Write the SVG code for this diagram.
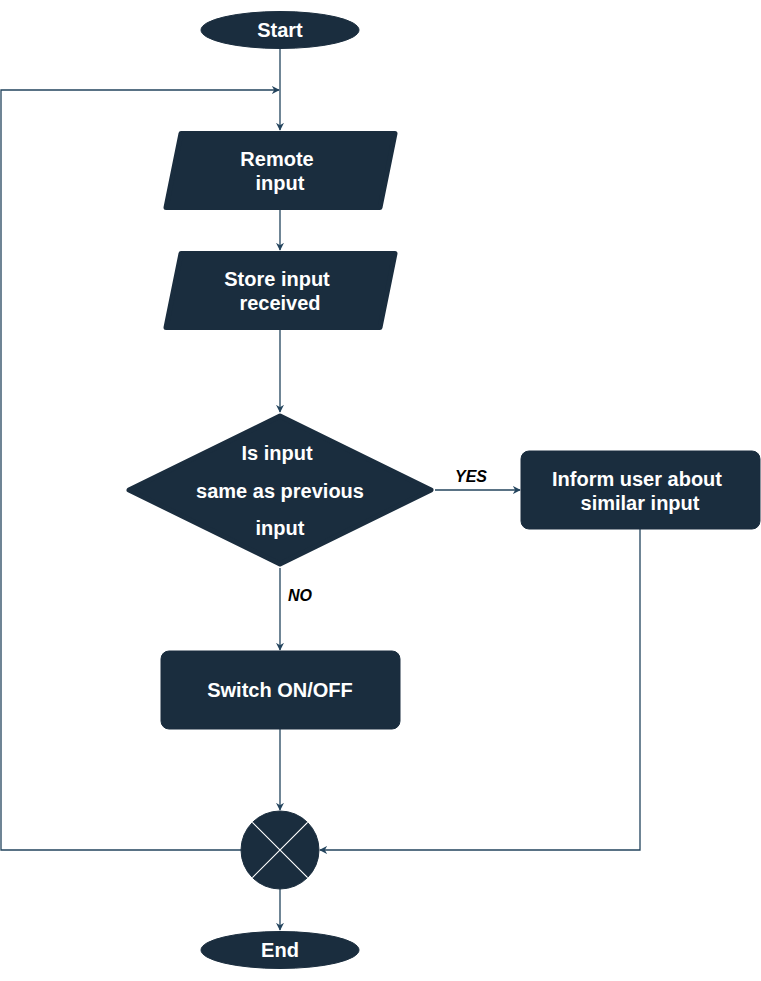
<svg xmlns="http://www.w3.org/2000/svg" width="761" height="981" viewBox="0 0 761 981">
<defs>
<marker id="arr" viewBox="0 0 10 10" refX="9" refY="5" markerWidth="8" markerHeight="8" markerUnits="userSpaceOnUse" orient="auto">
<path d="M0,0 L10,5 L0,10 L3,5 z" fill="#23445D"/>
</marker>
<style>
.n{fill:#1A2D3E;stroke:#1A2D3E;stroke-linejoin:round}
.t{font-family:"Liberation Sans",Arial,sans-serif;font-weight:bold;font-size:20px;fill:#FFFFFF;text-anchor:middle}
.l{font-family:"Liberation Sans",Arial,sans-serif;font-weight:bold;font-style:italic;font-size:16px;fill:#000000;text-anchor:middle}
.c{fill:none;stroke:#23445D;stroke-width:1.3}
</style>
</defs>
<rect width="761" height="981" fill="#FFFFFF"/>
<g id="connectors">
<path class="c" d="M280,49 L280,130" marker-end="url(#arr)"/>
<path class="c" d="M241,850 L1,850 L1,90 L279,90" marker-end="url(#arr)"/>
<path class="c" d="M280,210 L280,250" marker-end="url(#arr)"/>
<path class="c" d="M280,330 L280,412" marker-end="url(#arr)"/>
<path class="c" d="M435,490 L520,490" marker-end="url(#arr)"/>
<path class="c" d="M280,568 L280,650" marker-end="url(#arr)"/>
<path class="c" d="M280,729 L280,810" marker-end="url(#arr)"/>
<path class="c" d="M640,529 L640,850 L320,850" marker-end="url(#arr)"/>
<path class="c" d="M280,889 L280,930" marker-end="url(#arr)"/>
<text class="l" x="471" y="482">YES</text>
<text class="l" x="300" y="601">NO</text>
</g>
<g id="start">
<ellipse class="n" cx="280" cy="30" rx="79" ry="18.5"/>
<text class="t" x="280" y="37">Start</text>
</g>
<g id="remote-input">
<polygon class="n" stroke-width="5" points="181,133.5 395,133.5 380,207.5 166,207.5"/>
<text class="t" x="277" y="166">Remote</text>
<text class="t" x="280" y="190">input</text>
</g>
<g id="store-input">
<polygon class="n" stroke-width="5" points="181,253.5 395,253.5 380,327.5 166,327.5"/>
<text class="t" x="277" y="286">Store input</text>
<text class="t" x="280" y="310">received</text>
</g>
<g id="decision">
<polygon class="n" stroke-width="5" points="280,416 431,490 280,564 129,490"/>
<text class="t" x="277" y="460">Is input</text>
<text class="t" x="280" y="498">same as previous</text>
<text class="t" x="280" y="535">input</text>
</g>
<g id="inform">
<rect class="n" x="521" y="451" width="239" height="78" rx="8"/>
<text class="t" x="637" y="486">Inform user about</text>
<text class="t" x="640" y="510">similar input</text>
</g>
<g id="switch">
<rect class="n" x="161" y="651" width="239" height="78" rx="8"/>
<text class="t" x="280" y="697">Switch ON/OFF</text>
</g>
<g id="merge">
<circle class="n" cx="280" cy="850" r="39"/>
<path d="M252.4,822.4 L307.6,877.6 M307.6,822.4 L252.4,877.6" stroke="#FFFFFF" stroke-width="1.2"/>
</g>
<g id="end">
<ellipse class="n" cx="280" cy="950" rx="79" ry="18.5"/>
<text class="t" x="280" y="957">End</text>
</g>
</svg>
